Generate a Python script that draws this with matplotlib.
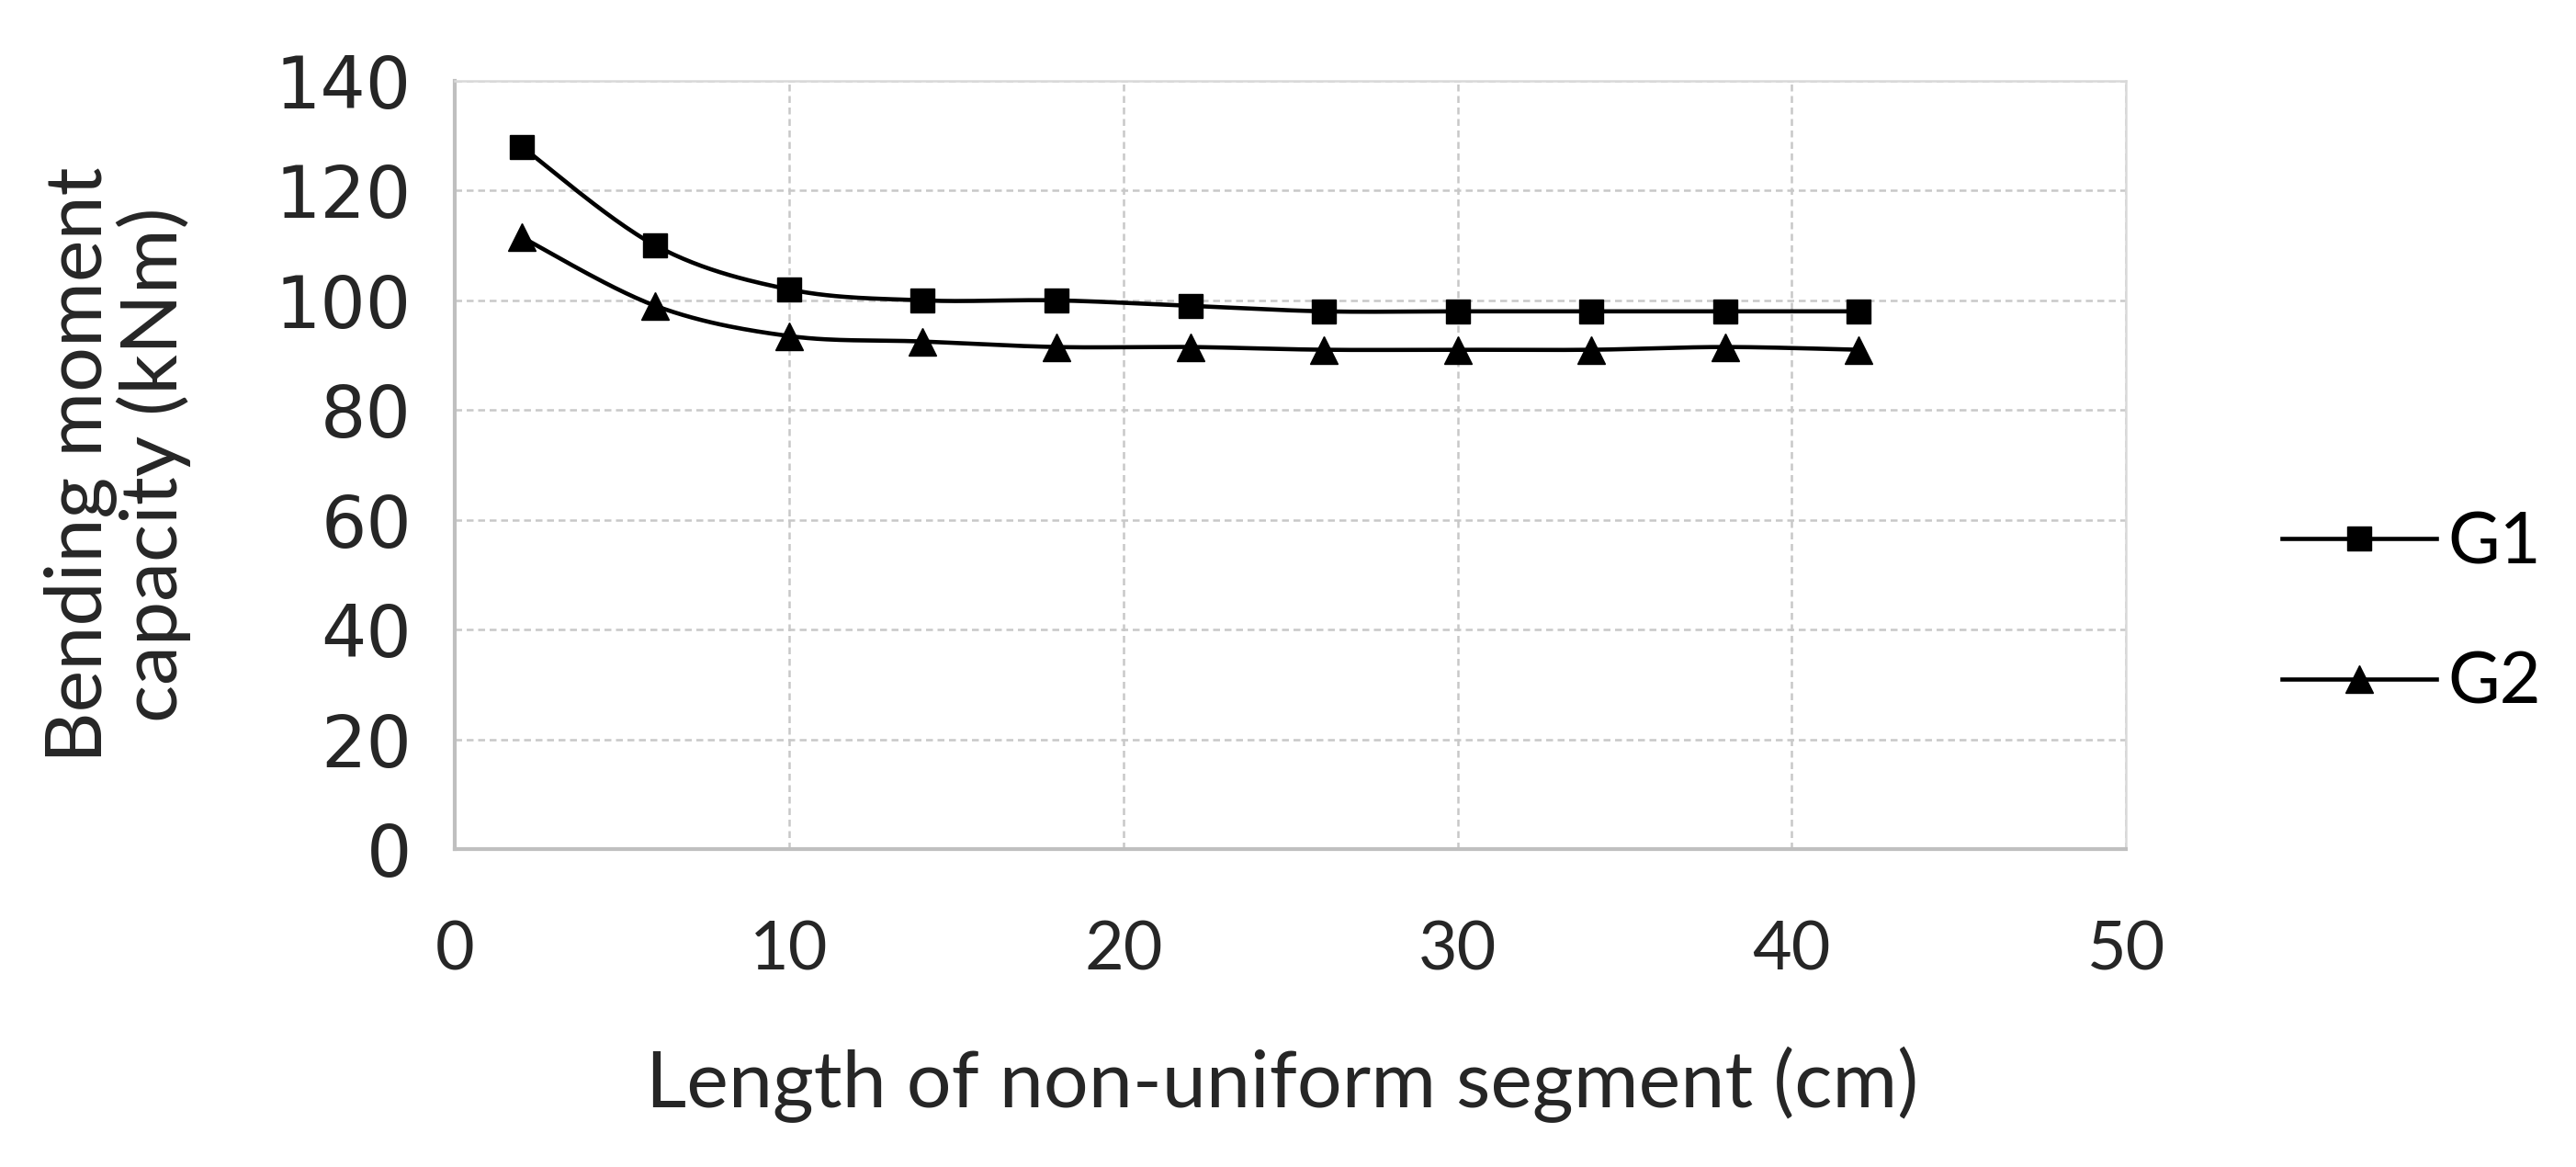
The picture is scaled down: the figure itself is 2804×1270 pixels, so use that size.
import numpy as np
import matplotlib
matplotlib.use("Agg")
import matplotlib.pyplot as plt
from matplotlib.lines import Line2D

# data
length_cm = [2, 6, 10, 14, 18, 22, 26, 30, 34, 38, 42]
g1 = [128, 110, 102, 100, 100, 99, 98, 98, 98, 98, 98]
g2 = [111.5, 99, 93.5, 92.5, 91.5, 91.5, 91, 91, 91, 91.5, 91]
series_names = ["G1", "G2"]
x_ticks = [0, 10, 20, 30, 40, 50]
y_ticks = [0, 20, 40, 60, 80, 100, 120, 140]

plt.rcParams['font.family'] = ['Lato', 'DejaVu Sans']
txt = '#262626'


def smooth(x, y, n=30):
    # Excel-style smoothed line (Catmull-Rom as cubic Bezier)
    x = np.asarray(x, float)
    y = np.asarray(y, float)
    pts = np.column_stack([x, y])
    out = [pts[0]]
    t = np.linspace(0, 1, n)[1:]
    for i in range(len(pts) - 1):
        p0 = pts[i - 1] if i > 0 else pts[i]
        p1 = pts[i]
        p2 = pts[i + 1]
        p3 = pts[i + 2] if i + 2 < len(pts) else pts[i + 1]
        c1 = p1 + (p2 - p0) / 6
        c2 = p2 - (p3 - p1) / 6
        for tt in t:
            b = ((1 - tt) ** 3) * p1 + 3 * ((1 - tt) ** 2) * tt * c1 \
                + 3 * (1 - tt) * tt ** 2 * c2 + tt ** 3 * p2
            out.append(b)
    out = np.array(out)
    return out[:, 0], out[:, 1]


fig = plt.figure(figsize=(28.04, 12.7), dpi=100)
ax = fig.add_axes([0.1766, 0.2724, 0.6487, 0.6583])

for vals, mk, ms in [(g1, 's', 19), (g2, '^', 21)]:
    sx, sy = smooth(length_cm, vals)
    ax.plot(sx, sy, color='black', lw=3.3, zorder=3)
    ax.plot(length_cm, vals, linestyle='none', marker=mk, ms=ms,
            color='black', zorder=4)

ax.set_xlim(0, 50)
ax.set_ylim(0, 140)
ax.set_xticks(x_ticks)
ax.set_yticks(y_ticks)
ax.grid(True, color='#c8c8c8', linestyle=(0, (3, 2)), lw=1.8)
ax.set_axisbelow(True)
ax.tick_params(length=0, colors=txt)
ax.tick_params(axis='x', labelsize=53, pad=56)
ax.tick_params(axis='y', pad=34)
for lab in ax.get_yticklabels():
    lab.set_family('DejaVu Sans')
    lab.set_fontsize(56)
for s in ['top', 'right']:
    ax.spines[s].set_color('#d9d9d9')
    ax.spines[s].set_linewidth(1.8)
for s in ['left', 'bottom']:
    ax.spines[s].set_color('#bfbfbf')
    ax.spines[s].set_linewidth(3)

ax.set_xlabel("Length of non-uniform segment (cm)", fontsize=62, color=txt)
ax.xaxis.set_label_coords(0.495, -0.306)
ax.xaxis.label.set_va('center')
ax.set_ylabel("Bending moment\ncapacity (kNm)", fontsize=62, color=txt,
              linespacing=1.0)
ax.yaxis.set_label_coords(-0.202, 0.5)
ax.yaxis.label.set_va('center')

handles = [Line2D([], [], color='black', lw=3.3, marker='s', ms=19),
           Line2D([], [], color='black', lw=3.3, marker='^', ms=21)]
fig.legend(handles, series_names, loc='center left',
           bbox_to_anchor=(0.886, 0.474), frameon=False,
           handlelength=2.16, handletextpad=0.15, labelspacing=1.05,
           borderpad=0, borderaxespad=0, prop={'family': 'Lato', 'size': 56})

fig.savefig("out.png", dpi=100, facecolor='white')
